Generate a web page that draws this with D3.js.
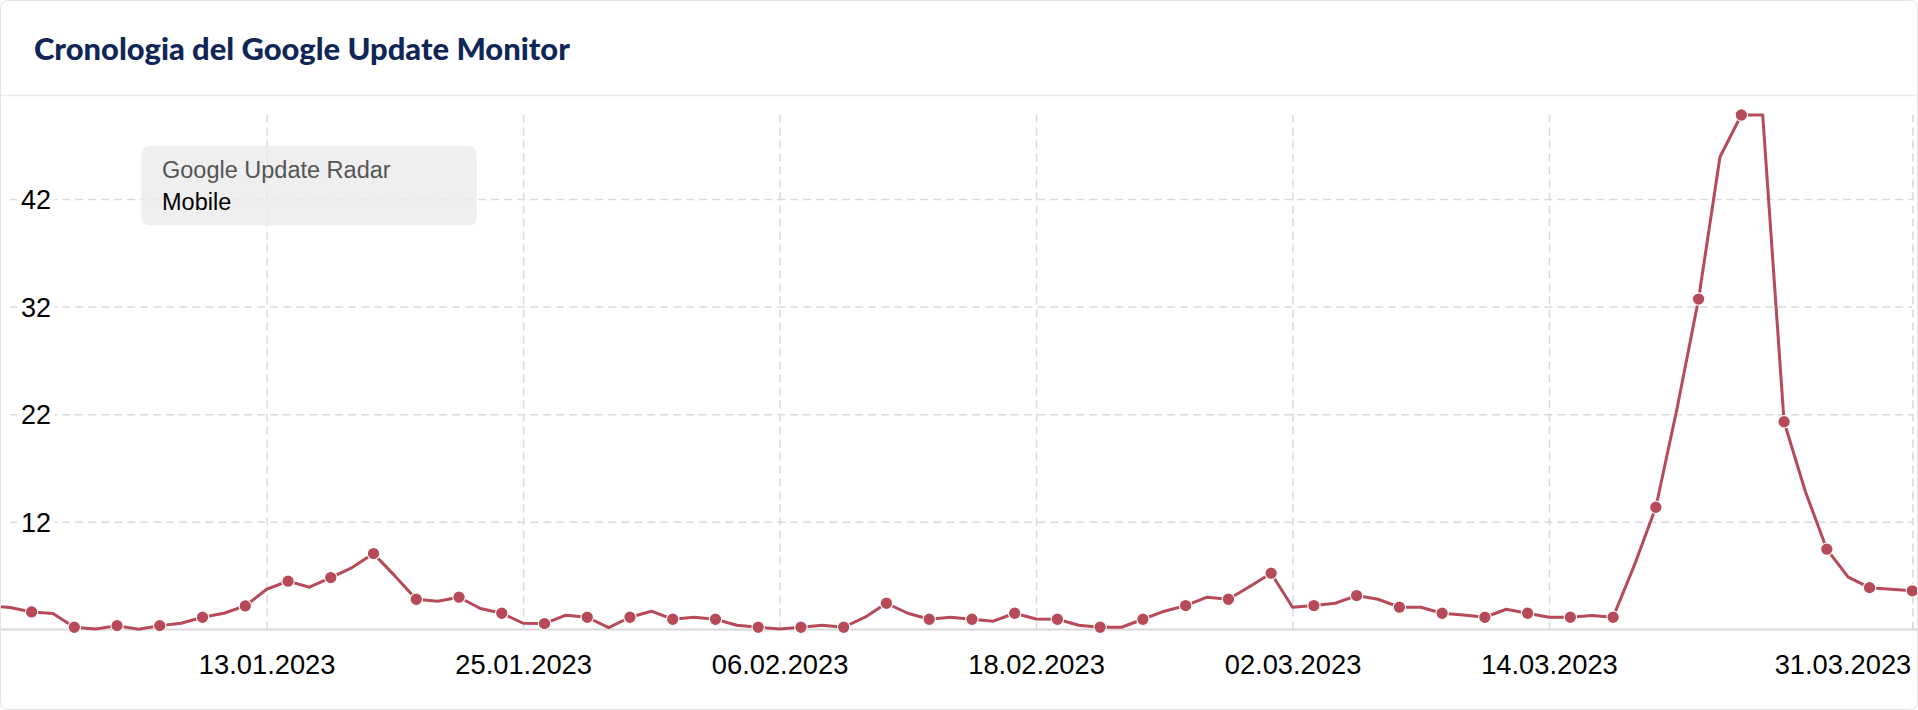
<!DOCTYPE html>
<html>
<head>
<meta charset="utf-8">
<script src="https://cdn.jsdelivr.net/npm/d3@7"></script>
<style>
html,body{margin:0;padding:0;background:#fff;overflow:hidden}
svg{display:block}
</style>
</head>
<body>
<svg id="chart" width="1918" height="710"></svg>
<script>
// ---------- DATA ----------
const chartTitle = "Cronologia del Google Update Monitor";
const legendTitle = "Google Update Radar";
const seriesName = "Mobile";
const firstDate = "2022-12-31"; // one value per day from this date
const values = [
  4.2, 4.05, 3.63, 3.48, 2.21, 2.05, 2.36, 2.02, 2.36, 2.58,
  3.14, 3.51, 4.19, 5.74, 6.49, 5.93, 6.82, 7.75, 9.05, 6.98,
  4.81, 4.63, 5.00, 3.95, 3.51, 2.58, 2.55, 3.33, 3.14, 2.18,
  3.14, 3.70, 2.95, 3.14, 2.95, 2.40, 2.21, 2.05, 2.21, 2.40,
  2.21, 3.14, 4.44, 3.51, 2.95, 3.14, 2.95, 2.77, 3.51, 2.98,
  2.95, 2.40, 2.21, 2.21, 2.95, 3.70, 4.22, 5.00, 4.81, 5.99,
  7.23, 4.07, 4.22, 4.44, 5.15, 4.81, 4.07, 4.07, 3.51, 3.35,
  3.14, 3.88, 3.51, 3.14, 3.14, 3.29, 3.14, 8.00, 13.36, 22.6,
  32.7, 45.9, 49.8, 49.8, 21.3, 14.8, 9.46, 6.86, 5.89, 5.74,
  5.59
];
const yTickValues = [12, 22, 32, 42];
const xTickDates = ["2023-01-13", "2023-01-25", "2023-02-06", "2023-02-18", "2023-03-02", "2023-03-14", "2023-03-31"];
const xTickLabels = ["13.01.2023", "25.01.2023", "06.02.2023", "18.02.2023", "02.03.2023", "14.03.2023", "31.03.2023"];
const xDomain = ["2023-01-01", "2023-03-31"];
const yDomain = [2, 49.8];

// ---------- SETUP ----------
const parse = d3.utcParse("%Y-%m-%d");
const start = parse(firstDate);
const data = values.map((v, i) => ({ date: d3.utcDay.offset(start, i), value: v }));
const tickDates = xTickDates.map(parse);

const plot = { left: 10.2, right: 1912.3, top: 115, bottom: 629.5 };
const lineColor = "#b64a58";
const gridColor = "#dadada";

const svg = d3.select("#chart");

const x = d3.scaleUtc().domain(xDomain.map(parse)).range([plot.left, plot.right]);
const y = d3.scaleLinear().domain(yDomain).range([plot.bottom, plot.top]);

// Card
svg.append("rect")
  .attr("x", 0.5).attr("y", 0.5).attr("width", 1917).attr("height", 709)
  .attr("rx", 7).attr("fill", "#fff").attr("stroke", "#e4e4e4");

// Header separator
svg.append("line")
  .attr("x1", 1).attr("x2", 1917).attr("y1", 95.5).attr("y2", 95.5)
  .attr("stroke", "#ececec").attr("stroke-width", 1.5);

// Title
const titleText = svg.append("text")
  .text(chartTitle)
  .attr("x", 34).attr("y", 60)
  .attr("font-family", "Lato, 'Noto Sans', sans-serif")
  .attr("font-weight", 900)
  .attr("font-size", 30)
  .attr("fill", "#0f2656");
{
  const w = titleText.node().getComputedTextLength();
  titleText.attr("font-size", 30 * 536 / w);
}

// Horizontal gridlines (via axis)
const yGrid = svg.append("g")
  .attr("transform", `translate(${plot.left},0)`)
  .call(d3.axisLeft(y).tickValues(yTickValues).tickSize(-(plot.right - plot.left)).tickFormat(""));
yGrid.select(".domain").remove();
yGrid.selectAll(".tick line")
  .attr("stroke", gridColor).attr("stroke-width", 1.5).attr("stroke-dasharray", "8,5");

// Vertical gridlines (via axis)
const xGrid = svg.append("g")
  .attr("transform", `translate(0,${plot.bottom})`)
  .call(d3.axisBottom(x).tickValues(tickDates).tickSize(-(plot.bottom - plot.top)).tickFormat(""));
xGrid.select(".domain").remove();
xGrid.selectAll(".tick line")
  .attr("stroke", gridColor).attr("stroke-width", 1.5).attr("stroke-dasharray", "8,5");

// Y labels (via axis) with white background
const yAxis = svg.append("g")
  .attr("transform", "translate(21,0)")
  .call(d3.axisRight(y).tickValues(yTickValues).tickSize(0).tickFormat(d3.format("d")));
yAxis.select(".domain").remove();
yAxis.selectAll(".tick").insert("rect", "text")
  .attr("x", -4).attr("y", -13).attr("width", 38).attr("height", 26).attr("fill", "#fff");
yAxis.selectAll(".tick text")
  .attr("x", 0).attr("dy", "0.35em")
  .attr("text-anchor", "start")
  .attr("font-family", "'Liberation Sans', Arial, sans-serif")
  .attr("font-size", 27)
  .attr("fill", "#000");

// X axis labels + baseline
const xAxis = svg.append("g")
  .attr("transform", `translate(0,${plot.bottom})`)
  .call(d3.axisBottom(x).tickValues(tickDates).tickSize(0)
    .tickFormat((d, i) => xTickLabels[i]));
xAxis.select(".domain").remove();
xAxis.selectAll(".tick text")
  .attr("y", 44.5).attr("dy", 0)
  .attr("font-family", "'Liberation Sans', Arial, sans-serif")
  .attr("font-size", 27.3)
  .attr("fill", "#000")
  .attr("text-anchor", (d, i) => i === xTickLabels.length - 1 ? "end" : "middle")
  .attr("x", (d, i) => i === xTickLabels.length - 1 ? -1.5 : 0);

svg.append("line")
  .attr("x1", 1).attr("x2", 1917)
  .attr("y1", plot.bottom).attr("y2", plot.bottom)
  .attr("stroke", "#d8d8d8").attr("stroke-width", 2);

// Legend box
const lg = svg.append("g");
lg.append("rect")
  .attr("x", 141.3).attr("y", 146).attr("width", 335.4).attr("height", 79.3)
  .attr("rx", 8).attr("fill", "#ececec").attr("fill-opacity", 0.82);
lg.append("text")
  .text(legendTitle)
  .attr("x", 162).attr("y", 177.7)
  .attr("font-family", "'Liberation Sans', Arial, sans-serif")
  .attr("font-size", 23.5).attr("fill", "#555");
lg.append("text")
  .text(seriesName)
  .attr("x", 162).attr("y", 209.5)
  .attr("font-family", "'Liberation Sans', Arial, sans-serif")
  .attr("font-size", 23.5).attr("fill", "#000");

// Clip
svg.append("clipPath").attr("id", "plotClip")
  .append("rect").attr("x", 1).attr("y", 100).attr("width", 1916).attr("height", 560);

const series = svg.append("g").attr("clip-path", "url(#plotClip)");

const line = d3.line().x(d => x(d.date)).y(d => y(d.value));
series.append("path")
  .datum(data)
  .attr("d", line)
  .attr("fill", "none")
  .attr("stroke", lineColor)
  .attr("stroke-width", 3)
  .attr("stroke-linejoin", "round");

// Markers on every other day
const dayIndex = d => d3.utcDay.count(parse(xDomain[0]), d.date);
series.selectAll("circle")
  .data(data.filter(d => Math.abs(dayIndex(d)) % 2 === 1))
  .join("circle")
  .attr("cx", d => x(d.date))
  .attr("cy", d => y(d.value))
  .attr("r", 6.2)
  .attr("fill", lineColor)
  .attr("stroke", "#fff")
  .attr("stroke-width", 1.1);
</script>
</body>
</html>
